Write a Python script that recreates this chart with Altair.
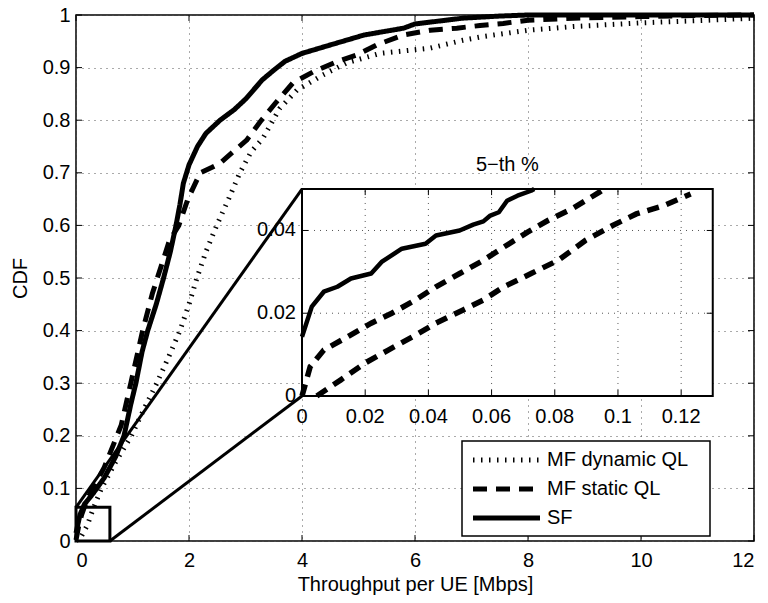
import altair as alt
import pandas as pd

W, H = 678, 526
FONT = "Liberation Sans"

series_names = ["MF dynamic QL", "MF static QL", "SF"]

# ---- main CDF curves (Throughput [Mbps], CDF) ----
sf_x = [0, 0.07, 0.15, 0.3, 0.5, 0.7, 0.85, 0.97, 1.06, 1.17, 1.27, 1.42, 1.55, 1.67, 1.77, 1.84, 1.9, 2.0,
        2.15, 2.3, 2.55, 2.8, 3.0, 3.3, 3.5, 3.7, 4.0, 4.5, 5.1, 5.8, 6.0, 6.85, 7.5, 8.0, 12.0]
sf_y = [0.015, 0.05, 0.07, 0.09, 0.12, 0.16, 0.2, 0.26, 0.3, 0.36, 0.4, 0.45, 0.5, 0.55, 0.6, 0.64, 0.68, 0.715,
        0.75, 0.775, 0.80, 0.82, 0.84, 0.877, 0.895, 0.912, 0.927, 0.943, 0.962, 0.975, 0.983, 0.994, 0.998, 1.0, 1.0]

mfs_x = [0, 0.05, 0.1, 0.2, 0.35, 0.5, 0.65, 0.8, 0.97, 1.18, 1.35, 1.5, 1.65, 1.82, 1.98, 2.2, 2.4, 2.55,
         2.78, 3.02, 3.26, 3.55, 3.84, 4.2, 4.61, 4.97, 5.32, 5.79, 6.27, 6.74, 7.15, 7.56, 8.0, 8.8, 10.0, 11.0, 12.0]
mfs_y = [0.002, 0.03, 0.05, 0.08, 0.11, 0.14, 0.18, 0.22, 0.3, 0.4, 0.47, 0.52, 0.57, 0.6, 0.65, 0.70, 0.71, 0.718,
         0.74, 0.762, 0.797, 0.835, 0.871, 0.892, 0.911, 0.924, 0.943, 0.962, 0.971, 0.975, 0.98, 0.984, 0.99, 0.994,
         0.997, 0.999, 1.0]

mfd_x = [0, 0.1, 0.2, 0.3, 0.45, 0.7, 0.98, 1.2, 1.43, 1.64, 1.84, 2.0, 2.14, 2.3, 2.49, 2.7, 2.9, 3.1, 3.31,
         3.61, 3.91, 4.37, 4.79, 5.38, 6.27, 6.85, 7.2, 8.0, 8.8, 10.0, 11.17, 12.0]
mfd_y = [0, 0.01, 0.03, 0.06, 0.1, 0.15, 0.2, 0.25, 0.3, 0.35, 0.4, 0.45, 0.5, 0.55, 0.6, 0.65, 0.7, 0.74, 0.766,
         0.823, 0.857, 0.886, 0.909, 0.927, 0.937, 0.952, 0.959, 0.971, 0.978, 0.985, 0.99, 0.994]

# ---- inset (5-th percentile zoom) ----
isf_x = [0, 0.0031, 0.0069, 0.0112, 0.0155, 0.0219, 0.0252, 0.0316, 0.0391, 0.0424, 0.0499, 0.0542, 0.0574,
         0.0596, 0.0623, 0.0649, 0.0682, 0.0725, 0.0735]
isf_y = [0.0143, 0.0216, 0.0252, 0.0264, 0.0284, 0.0296, 0.0324, 0.0356, 0.0368, 0.0388, 0.04, 0.0414, 0.0422,
         0.0436, 0.0444, 0.0472, 0.0484, 0.0496, 0.05]
imfs_x = [0, 0.0026, 0.0069, 0.0144, 0.0219, 0.0284, 0.0359, 0.0424, 0.0499, 0.0574, 0.0639, 0.0714, 0.0778,
          0.0854, 0.094, 0.0955]
imfs_y = [0.0, 0.0071, 0.0111, 0.0143, 0.0176, 0.02, 0.0232, 0.0264, 0.0296, 0.0328, 0.036, 0.0396, 0.0424,
          0.0452, 0.0492, 0.05]
imfd_x = [0.0047, 0.0123, 0.0198, 0.0273, 0.0359, 0.0424, 0.051, 0.0574, 0.0639, 0.0725, 0.0811, 0.0897, 0.0983,
          0.1058, 0.1144, 0.123]
imfd_y = [0, 0.0039, 0.0079, 0.0111, 0.0147, 0.0176, 0.0208, 0.0232, 0.0264, 0.0296, 0.0328, 0.0376, 0.0412,
          0.044, 0.046, 0.0488]

main_x_ticks = [0, 2, 4, 6, 8, 10, 12]
main_y_ticks = [0, 0.1, 0.2, 0.3, 0.4, 0.5, 0.6, 0.7, 0.8, 0.9, 1]
inset_x_ticks = [0, 0.02, 0.04, 0.06, 0.08, 0.1, 0.12]
inset_x_labels = ["0", "0.02", "0.04", "0.06", "0.08", "0.1", "0.12"]
inset_y_ticks = [0, 0.02, 0.04]
inset_y_labels = ["0", "0.02", "0.04"]
inset_domain_x = [0, 0.13]
inset_domain_y = [0, 0.05]
inset_title = "5\u2212th %"

# zoom box in main coords and where the inset sits (main data coords)
zoom_box_x = [0, 0.6]
zoom_box_y = [0, 0.064]
inset_main_x = [4.0, 11.27]
inset_main_y = [0.2757, 0.669]

# legend layout (pixels inside the plot area)
LEG_BOX = dict(x=386, x2=634, y=426, y2=521)
LEG_ROWS = [445, 503]
LEG_SYM = (397, 464)
LEG_TEXT_X = 471

# ---------------------------------------------------------------------------
def frame(xs, ys, name):
    return pd.DataFrame({"x": xs, "y": ys, "series": name, "i": range(len(xs))})

main_df = pd.concat([frame(mfd_x, mfd_y, series_names[0]),
                     frame(mfs_x, mfs_y, series_names[1]),
                     frame(sf_x, sf_y, series_names[2])])

xs = alt.Scale(domain=[0, 12], nice=False, zero=False)
ys = alt.Scale(domain=[0, 1], nice=False, zero=False)

x_axis = alt.Axis(values=main_x_ticks, grid=True, ticks=False, domain=False, title="Throughput per UE [Mbps]",
                  format="~g", labelPadding=9, titlePadding=4)
y_axis = alt.Axis(values=main_y_ticks, grid=True, ticks=False, domain=False, title="CDF", format="~g",
                  labelPadding=6, titlePadding=12)

dash_scale = alt.Scale(domain=series_names, range=[[1.5, 6.5], [14, 9], [1, 0]])
width_scale = alt.Scale(domain=series_names, range=[5, 5, 4.5])

curves = alt.Chart(main_df).mark_line(color="black", strokeJoin="round").encode(
    x=alt.X("x:Q", scale=xs, axis=x_axis),
    y=alt.Y("y:Q", scale=ys, axis=y_axis),
    strokeDash=alt.StrokeDash("series:N", scale=dash_scale, legend=None),
    strokeWidth=alt.StrokeWidth("series:N", scale=width_scale, legend=None),
    order="i:Q",
)

tick_x_df = pd.DataFrame({"v": main_x_ticks})
tick_y_df = pd.DataFrame({"v": main_y_ticks})
ticks_bottom = alt.Chart(tick_x_df).mark_rule(color="black", y2Offset=-6).encode(
    x=alt.X("v:Q", scale=xs), y=alt.datum(0), y2=alt.datum(0))
ticks_top = alt.Chart(tick_x_df).mark_rule(color="black", y2Offset=6).encode(
    x=alt.X("v:Q", scale=xs), y=alt.datum(1), y2=alt.datum(1))
ticks_left = alt.Chart(tick_y_df).mark_rule(color="black", x2Offset=6).encode(
    y=alt.Y("v:Q", scale=ys), x=alt.datum(0), x2=alt.datum(0))
ticks_right = alt.Chart(tick_y_df).mark_rule(color="black", x2Offset=-6).encode(
    y=alt.Y("v:Q", scale=ys), x=alt.datum(12), x2=alt.datum(12))

box_df = pd.DataFrame({"x0": [zoom_box_x[0]], "x1": [zoom_box_x[1]], "y0": [zoom_box_y[0]], "y1": [zoom_box_y[1]]})
zoom_box = alt.Chart(box_df).mark_rect(fill=None, fillOpacity=0, stroke="black", strokeWidth=3).encode(
    x=alt.X("x0:Q", scale=xs), x2="x1:Q", y=alt.Y("y0:Q", scale=ys), y2="y1:Q")

conn_df = pd.DataFrame({"x0": [zoom_box_x[0], zoom_box_x[1]], "y0": [zoom_box_y[1], zoom_box_y[0]],
                        "x1": [inset_main_x[0], inset_main_x[0]], "y1": [inset_main_y[1], inset_main_y[0]]})
connectors = alt.Chart(conn_df).mark_rule(color="black", strokeWidth=3).encode(
    x=alt.X("x0:Q", scale=xs), x2="x1:Q", y=alt.Y("y0:Q", scale=ys), y2="y1:Q")

main_layer = alt.layer(curves, ticks_bottom, ticks_top, ticks_left, ticks_right, zoom_box, connectors)

# ---- inset layer, with its own scales placed inside the plot ----
ix_range = [W * inset_main_x[0] / 12, W * inset_main_x[1] / 12]
iy_range = [H * (1 - inset_main_y[0]), H * (1 - inset_main_y[1])]
ixs = alt.Scale(domain=inset_domain_x, range=ix_range, nice=False, zero=False)
iys = alt.Scale(domain=inset_domain_y, range=iy_range, nice=False, zero=False)

bg = alt.Chart(pd.DataFrame({"a": [0]})).mark_rect(fill="white", stroke=None).encode(
    x=alt.X(datum=inset_domain_x[0], scale=ixs, axis=None), x2=alt.datum(inset_domain_x[1]),
    y=alt.Y(datum=inset_domain_y[0], scale=iys, axis=None), y2=alt.datum(inset_domain_y[1]))

igx_df = pd.DataFrame({"v": inset_x_ticks[1:]})
igy_df = pd.DataFrame({"v": inset_y_ticks[1:]})
grid_style = dict(color="#555", strokeDash=[1, 5], strokeWidth=1)
igrid_x = alt.Chart(igx_df).mark_rule(**grid_style).encode(
    x=alt.X("v:Q", scale=ixs, axis=None), y=alt.Y(datum=inset_domain_y[0], scale=iys, axis=None),
    y2=alt.datum(inset_domain_y[1]))
igrid_y = alt.Chart(igy_df).mark_rule(**grid_style).encode(
    y=alt.Y("v:Q", scale=iys, axis=None), x=alt.X(datum=inset_domain_x[0], scale=ixs, axis=None),
    x2=alt.datum(inset_domain_x[1]))

iticks_b = alt.Chart(igx_df).mark_rule(color="black", y2Offset=-6).encode(
    x=alt.X("v:Q", scale=ixs, axis=None), y=alt.Y(datum=inset_domain_y[0], scale=iys, axis=None),
    y2=alt.datum(inset_domain_y[0]))
iticks_t = alt.Chart(igx_df).mark_rule(color="black", y2Offset=6).encode(
    x=alt.X("v:Q", scale=ixs, axis=None), y=alt.Y(datum=inset_domain_y[1], scale=iys, axis=None),
    y2=alt.datum(inset_domain_y[1]))
iticks_l = alt.Chart(igy_df).mark_rule(color="black", x2Offset=6).encode(
    y=alt.Y("v:Q", scale=iys, axis=None), x=alt.X(datum=inset_domain_x[0], scale=ixs, axis=None),
    x2=alt.datum(inset_domain_x[0]))
iticks_r = alt.Chart(igy_df).mark_rule(color="black", x2Offset=-6).encode(
    y=alt.Y("v:Q", scale=iys, axis=None), x=alt.X(datum=inset_domain_x[1], scale=ixs, axis=None),
    x2=alt.datum(inset_domain_x[1]))

icurves_dash = alt.Chart(pd.concat([frame(imfd_x, imfd_y, series_names[0]),
                                    frame(imfs_x, imfs_y, series_names[1])])).mark_line(
    color="black", strokeWidth=5.5, strokeDash=[12, 8]).encode(
    x=alt.X("x:Q", scale=ixs, axis=None), y=alt.Y("y:Q", scale=iys, axis=None), detail="series:N", order="i:Q")
icurve_sf = alt.Chart(frame(isf_x, isf_y, series_names[2])).mark_line(
    color="black", strokeWidth=4.5, strokeJoin="round").encode(
    x=alt.X("x:Q", scale=ixs, axis=None), y=alt.Y("y:Q", scale=iys, axis=None), order="i:Q")

border = alt.Chart(pd.DataFrame({"a": [0]})).mark_rect(fill=None, fillOpacity=0, stroke="black",
                                                        strokeWidth=2).encode(
    x=alt.X(datum=inset_domain_x[0], scale=ixs, axis=None), x2=alt.datum(inset_domain_x[1]),
    y=alt.Y(datum=inset_domain_y[0], scale=iys, axis=None), y2=alt.datum(inset_domain_y[1]))

txt = dict(font=FONT, fontSize=20, color="black")
ilab_x = alt.Chart(pd.DataFrame({"v": inset_x_ticks, "t": inset_x_labels})).mark_text(
    dy=21, baseline="middle", align="center", **txt).encode(
    x=alt.X("v:Q", scale=ixs, axis=None), y=alt.Y(datum=inset_domain_y[0], scale=iys, axis=None), text="t:N")
ilab_y = alt.Chart(pd.DataFrame({"v": inset_y_ticks, "t": inset_y_labels})).mark_text(
    dx=-6, baseline="middle", align="right", **txt).encode(
    y=alt.Y("v:Q", scale=iys, axis=None), x=alt.X(datum=inset_domain_x[0], scale=ixs, axis=None), text="t:N")
ititle = alt.Chart(pd.DataFrame({"t": [inset_title]})).mark_text(
    dy=-24, baseline="middle", align="center", **txt).encode(
    x=alt.X(datum=(inset_domain_x[0] + inset_domain_x[1]) / 2, scale=ixs, axis=None),
    y=alt.Y(datum=inset_domain_y[1], scale=iys, axis=None), text="t:N")

inset_layer = alt.layer(bg, igrid_x, igrid_y, iticks_b, iticks_t, iticks_l, iticks_r,
                        icurves_dash, icurve_sf, border, ilab_x, ilab_y, ititle)

# ---- legend (drawn with the shared dash / width scales) ----
leg_df = pd.DataFrame({"series": series_names, "row": list(range(len(series_names)))})
row_scale = alt.Scale(domain=[0, len(series_names) - 1], range=LEG_ROWS, nice=False, zero=False)
leg_box = alt.Chart(pd.DataFrame({"a": [0]})).mark_rect(fill="white", stroke="black", strokeWidth=1.5).encode(
    x=alt.value(LEG_BOX["x"]), x2=alt.value(LEG_BOX["x2"]), y=alt.value(LEG_BOX["y"]), y2=alt.value(LEG_BOX["y2"]))
leg_sym = alt.Chart(leg_df).mark_rule(color="black").encode(
    x=alt.value(LEG_SYM[0]), x2=alt.value(LEG_SYM[1]),
    y=alt.Y("row:Q", scale=row_scale, axis=None),
    strokeDash=alt.StrokeDash("series:N", scale=dash_scale, legend=None),
    strokeWidth=alt.StrokeWidth("series:N", scale=width_scale, legend=None))
leg_txt = alt.Chart(leg_df).mark_text(align="left", baseline="middle", **txt).encode(
    x=alt.value(LEG_TEXT_X), y=alt.Y("row:Q", scale=row_scale, axis=None), text="series:N")
legend_layer = alt.layer(leg_box, leg_sym, leg_txt)

chart = alt.layer(main_layer, inset_layer, legend_layer).resolve_scale(
    x="independent", y="independent"
).properties(
    width=W, height=H,
    background="white",
    autosize=alt.AutoSizeParams(type="none"),
    padding={"left": 68, "top": 7, "right": 6, "bottom": 54},
).configure_view(
    stroke="black", strokeWidth=1.5
).configure_axis(
    labelFont=FONT, labelFontSize=20, labelColor="black",
    titleFont=FONT, titleFontSize=20, titleFontWeight="normal", titleColor="black",
    gridColor="#555", gridDash=[1, 5], gridWidth=1, gridOpacity=1,
)

chart.save("out.html", embed_options={"renderer": "svg", "actions": False})
